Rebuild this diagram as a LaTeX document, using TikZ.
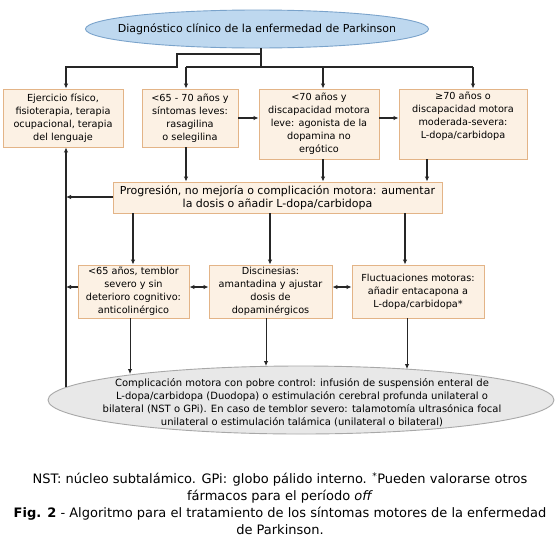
\documentclass[tikz,border=0pt]{standalone}
\usepackage{fontspec}
\setmainfont{DejaVu Sans}
\usetikzlibrary{shapes.geometric,arrows.meta}
\definecolor{boxfill}{HTML}{FCF1E4}
\definecolor{boxline}{HTML}{E3B487}
\definecolor{ellfill}{HTML}{BED8EF}
\definecolor{ellline}{HTML}{7AA3CB}
\definecolor{grayfill}{HTML}{E8E8E8}
\definecolor{grayline}{HTML}{A8A8A8}
\definecolor{conn}{HTML}{262626}
\begin{document}
\begin{tikzpicture}[x=1pt,y=-1pt,
  txt/.style={font=\fontsize{9.7}{13}\selectfont, align=center, inner sep=0pt},
  elltxt/.style={font=\fontsize{10}{13.2}\selectfont, align=center, inner sep=0pt},
  bigtxt/.style={font=\fontsize{11}{13.5}\selectfont, align=center, inner sep=0pt},
  captxt/.style={font=\fontsize{13}{16.5}\selectfont, align=center, inner sep=0pt},
  abox/.style={txt, draw=boxline, fill=boxfill, line width=0.9pt, inner sep=1pt},
  conline/.style={draw=conn, line width=1.1pt},
  arr/.style={conline, -{Latex[length=5pt,width=4.5pt]}},
  darr/.style={conline, {Latex[length=5pt,width=4.5pt]}-{Latex[length=5pt,width=4.5pt]}}
]
\useasboundingbox (0,0) rectangle (559,541);
\fill[white] (0,0) rectangle (559,541);

% top ellipse
\node[ellipse, draw=ellline, fill=ellfill, line width=0.9pt, minimum width=343pt, minimum height=38pt, inner sep=0pt] (e1) at (257,29) {};
\node[bigtxt] (e1t) at (e1.center) {Diagnóstico clínico de la enfermedad de Parkinson};

% row 1
\node[abox, minimum width=120pt, minimum height=58pt] (b1) at (63,118) {Ejercicio físico,\\ fisioterapia, terapia\\ ocupacional, terapia\\ del lenguaje};
\node[abox, minimum width=96pt, minimum height=58pt] (b2) at (190,118) {<65 - 70 años y\\ síntomas leves:\\ rasagilina\\ o selegilina};
\node[abox, minimum width=120pt, minimum height=70pt] (b3) at (319,124) {<70 años y\\ discapacidad motora\\ leve: agonista de la\\ dopamina no\\ ergótico};
\node[abox, minimum width=128pt, minimum height=70pt] (b4) at (463,124) {≥70 años o\\ discapacidad motora\\ moderada-severa:\\ L-dopa/carbidopa\\ \strut};

% progression
\node[abox, bigtxt, inner sep=1pt, minimum width=329pt, minimum height=31pt] (pr) at (277.5,197.5) {Progresión, no mejoría o complicación motora: aumentar\\ la dosis o añadir L-dopa/carbidopa};

% row 3
\node[abox, minimum width=111pt, minimum height=53pt] (b5) at (133.5,291.5) {<65 años, temblor\\ severo y sin\\ deterioro cognitivo:\\ anticolinérgico};
\node[abox, minimum width=123pt, minimum height=53pt] (b6) at (270.5,291.5) {Discinesias:\\ amantadina y ajustar\\ dosis de\\ dopaminérgicos};
\node[abox, minimum width=132pt, minimum height=53pt] (b7) at (418,291.5) {Fluctuaciones motoras:\\ añadir entacapona a\\ L-dopa/carbidopa*};

% bottom ellipse
\node[ellipse, draw=grayline, fill=grayfill, line width=0.9pt, minimum width=506pt, minimum height=68pt, inner sep=0pt] (e2) at (301,400) {};
\node[elltxt] (e2t) at (302,402.5) {Complicación motora con pobre control: infusión de suspensión enteral de\\ L-dopa/carbidopa (Duodopa) o estimulación cerebral profunda unilateral o\\ bilateral (NST o GPi). En caso de temblor severo: talamotomía ultrasónica focal\\ unilateral o estimulación talámica (unilateral o bilateral)};

% captions
\node[captxt] (cap1) at (280,488) {NST: núcleo subtalámico. GPi: globo pálido interno. \textsuperscript{*}Pueden valorarse otros\\ fármacos para el período \textit{off}};
\node[captxt] (cap2) at (280,521) {\textbf{Fig. 2} - Algoritmo para el tratamiento de los síntomas motores de la enfermedad\\ de Parkinson.};

% junction coordinates
\coordinate (c1) at (261,54);
\coordinate (c2) at (177,54);
\coordinate (c3) at (177,67);
\coordinate (c4) at (66,67);
\coordinate (d0) at (261,67);
\coordinate (d1) at (186,67);
\coordinate (d3) at (323,67);
\coordinate (d2) at (473,67);
\coordinate (h1) at (0,118);
\coordinate (v4) at (427,0);
\coordinate (h2) at (0,197);
\coordinate (L0) at (66,387);
\coordinate (h3) at (0,287);
\coordinate (p5) at (133,0);
\coordinate (p6) at (270,0);
\coordinate (p7) at (405,0);
\coordinate (q5) at (130,374);
\coordinate (q6) at (266,366);
\coordinate (q7) at (407,369);

% top connectors
\draw[arr] (e1.south -| c1) -- (c1) -- (c2) -- (c3) -- (c4) -- (b1.north -| c4);
\draw[conline] (c1) -- (d0);
\draw[conline] (d1) -- (d2);
\draw[arr] (d1) -- (b2.north -| d1);
\draw[arr] (d3) -- (b3.north -| d3);
\draw[arr] (d2) -- (b4.north -| d2);

% row 1 horizontal
\draw[arr] (b2.east |- h1) -- (b3.west |- h1);
\draw[arr] (b3.east |- h1) -- (b4.west |- h1);

% row 1 to progression
\draw[arr] (b2.south -| d1) -- (pr.north -| d1);
\draw[arr] (b3.south -| d3) -- (pr.north -| d3);
\draw[arr] (b4.south -| v4) -- (pr.north -| v4);

% left return line
\draw[arr] (L0) -- (b1.south -| L0);
\draw[arr] (pr.west |- h2) -- (L0 |- h2);
\draw[arr] (b5.west |- h3) -- (L0 |- h3);

% progression to row 3
\draw[arr] (pr.south -| p5) -- (b5.north -| p5);
\draw[arr] (pr.south -| p6) -- (b6.north -| p6);
\draw[arr] (pr.south -| p7) -- (b7.north -| p7);

% row 3 double arrows
\draw[darr] (b5.east |- h3) -- (b6.west |- h3);
\draw[darr] (b6.east |- h3) -- (b7.west |- h3);

% row 3 to bottom ellipse
\draw[arr, line width=0.9pt] (b5.south -| q5) -- (q5);
\draw[arr, line width=0.9pt] (b6.south -| q6) -- (q6);
\draw[arr, line width=0.9pt] (b7.south -| q7) -- (q7);
\end{tikzpicture}
\end{document}
